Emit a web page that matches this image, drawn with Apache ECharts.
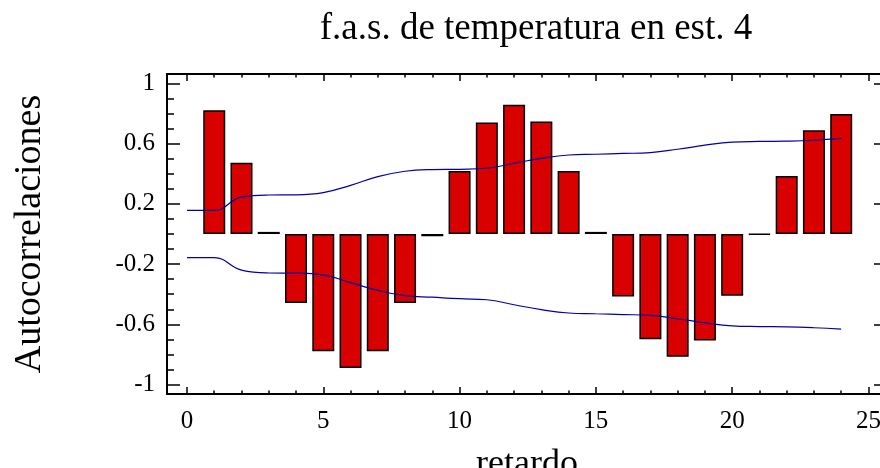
<!DOCTYPE html>
<html>
<head>
<meta charset="utf-8">
<script src="https://cdn.jsdelivr.net/npm/echarts@6/dist/echarts.min.js"></script>
<style>
  html, body { margin: 0; padding: 0; background: #fff; }
  #chart { width: 880px; height: 468px; }
</style>
</head>
<body>
<div id="chart"></div>
<script>
// datos de la f.a.s.
const lags = [1, 2, 3, 4, 5, 6, 7, 8, 9, 10, 11, 12, 13, 14, 15, 16, 17, 18, 19, 20, 21, 22, 23, 24];
const acf = [0.822, 0.473, 0.014, -0.459, -0.779, -0.89, -0.779, -0.459, -0.015, 0.419, 0.741, 0.859,
  0.748, 0.419, 0.014, -0.415, -0.699, -0.815, -0.708, -0.41, -0.004, 0.385, 0.69, 0.797];
// bandas de confianza (retardo 0..24)
const bandLags = [0, 1, 2, 3, 4, 5, 6, 7, 8, 9, 10, 11, 12, 13, 14, 15, 16, 17, 18, 19, 20, 21, 22, 23, 24];
const upper = [0.157, 0.157, 0.245, 0.259, 0.26, 0.275, 0.323, 0.381, 0.417, 0.428, 0.43, 0.437, 0.47,
  0.503, 0.525, 0.53, 0.535, 0.541, 0.563, 0.59, 0.61, 0.615, 0.617, 0.623, 0.635];
const lower = [-0.157, -0.157, -0.24, -0.259, -0.26, -0.272, -0.323, -0.375, -0.41, -0.42, -0.43, -0.437, -0.47,
  -0.503, -0.525, -0.53, -0.535, -0.541, -0.563, -0.59, -0.61, -0.615, -0.617, -0.623, -0.632];
// marcas de los ejes
const xLabels = [0, 5, 10, 15, 20, 25];
const xMinor = [0, 1, 2, 3, 4, 5, 6, 7, 8, 9, 10, 11, 12, 13, 14, 15, 16, 17, 18, 19, 20, 21, 22, 23, 24, 25];
const yLabels = [-1, -0.6, -0.2, 0.2, 0.6, 1];
const yMinor = [-1, -0.9, -0.8, -0.7, -0.6, -0.5, -0.4, -0.3, -0.2, -0.1, 0, 0.1, 0.2, 0.3, 0.4, 0.5, 0.6, 0.7, 0.8, 0.9, 1];

const font = '"Liberation Serif", "DejaVu Serif", serif';
const XMIN = -0.733, XMAX = 25.68, YMIN = -1.063, YMAX = 1.063;

function xAxisDef(pos, major, withLabels, showLine) {
  return {
    type: 'value', position: pos, min: XMIN, max: XMAX,
    name: withLabels ? 'retardo' : '',
    nameLocation: 'middle', nameGap: 53,
    nameTextStyle: { fontFamily: font, fontSize: 36, color: '#000' },
    axisLine: { show: showLine, onZero: false, lineStyle: { color: '#000', width: 2 } },
    axisTick: { show: true, inside: true, length: major ? 7 : 3.5,
      customValues: major ? xLabels : xMinor, lineStyle: { color: '#000', width: 1.5 } },
    axisLabel: { show: withLabels, customValues: xLabels, margin: 15,
      fontFamily: font, fontSize: 25, color: '#000' },
    splitLine: { show: false }
  };
}

function yAxisDef(pos, major, withLabels, showLine) {
  return {
    type: 'value', position: pos, min: YMIN, max: YMAX,
    name: withLabels ? 'Autocorrelaciones' : '',
    nameLocation: 'middle', nameGap: 118,
    nameTextStyle: { fontFamily: font, fontSize: 38, color: '#000' },
    axisLine: { show: showLine, onZero: false, lineStyle: { color: '#000', width: 2 } },
    axisTick: { show: true, inside: true, length: major ? 13 : 7,
      customValues: major ? yLabels : yMinor, lineStyle: { color: '#000', width: 1.5 } },
    axisLabel: { show: withLabels, customValues: yLabels, margin: 12,
      fontFamily: font, fontSize: 25, color: '#000',
      formatter: v => String(Math.round(v * 10) / 10) },
    splitLine: { show: false }
  };
}

const chart = echarts.init(document.getElementById('chart'));
chart.setOption({
  animation: false,
  backgroundColor: '#fff',
  title: {
    text: 'f.a.s. de temperatura en est. 4',
    left: 531, top: 6, textAlign: 'center',
    textStyle: { fontFamily: font, fontSize: 37, fontWeight: 'normal', color: '#000' }
  },
  grid: { left: 167, top: 74, width: 720, height: 320, containLabel: false, outerBoundsMode: 'none' },
  xAxis: [
    xAxisDef('bottom', true, true, true),
    xAxisDef('bottom', false, false, false),
    xAxisDef('top', true, false, true),
    xAxisDef('top', false, false, false)
  ],
  yAxis: [
    yAxisDef('left', true, true, true),
    yAxisDef('left', false, false, false),
    yAxisDef('right', true, false, true),
    yAxisDef('right', false, false, false)
  ],
  series: [
    {
      type: 'bar',
      data: lags.map((l, i) => [l, acf[i]]),
      barWidth: 22,
      itemStyle: { color: '#d90000', borderColor: '#000', borderWidth: 1.5 }
    },
    {
      type: 'line',
      data: bandLags.map((l, i) => [l, upper[i]]),
      smooth: 0.45, symbol: 'none',
      lineStyle: { color: '#0000a8', width: 1.2 }
    },
    {
      type: 'line',
      data: bandLags.map((l, i) => [l, lower[i]]),
      smooth: 0.45, symbol: 'none',
      lineStyle: { color: '#0000a8', width: 1.2 }
    }
  ]
});
</script>
</body>
</html>
